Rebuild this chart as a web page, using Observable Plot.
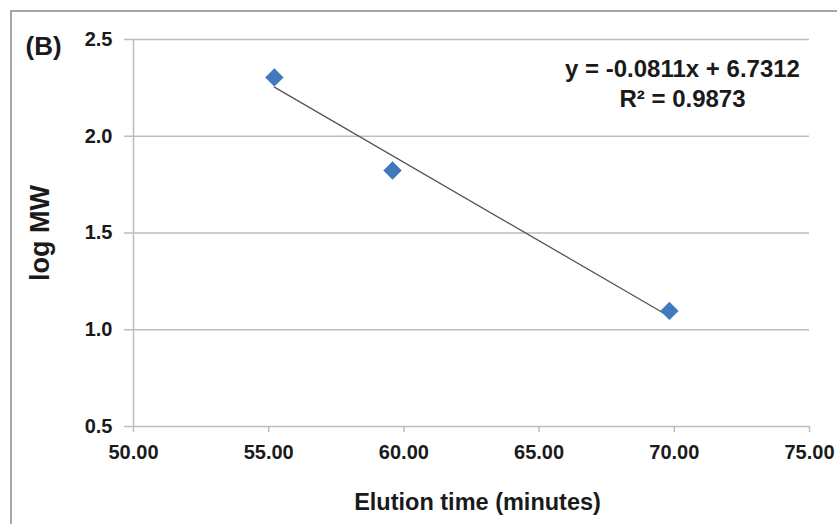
<!DOCTYPE html>
<html>
<head>
<meta charset="utf-8">
<script src="https://cdn.jsdelivr.net/npm/d3@7"></script>
<script src="https://cdn.jsdelivr.net/npm/@observablehq/plot@0.6"></script>
<style>
  html, body { margin: 0; padding: 0; background: #fff; }
  #wrap { position: relative; width: 837px; height: 524px; overflow: hidden; }
  #border { position: absolute; left: 10px; top: 10px; width: 900px; height: 600px; border-left: 2px solid #a6a6a6; border-top: 2px solid #a6a6a6; box-sizing: border-box; }
  #chart { position: absolute; left: 0; top: 0; }
  svg { font-family: "Liberation Sans", Arial, sans-serif; }
</style>
</head>
<body>
<div id="wrap"><div id="border"></div><div id="chart"></div></div>
<script>
const elutionTime = [55.21, 59.58, 69.82];
const logMW = [2.304, 1.823, 1.097];
const xTicks = [50, 55, 60, 65, 70, 75];
const yTicks = [0.5, 1.0, 1.5, 2.0, 2.5];
const slope = -0.0811, intercept = 6.7312;
const equationLines = ["y = -0.0811x + 6.7312", "R² = 0.9873"];

const points = elutionTime.map((x, i) => ({x, y: logMW[i]}));
const xMin = d3.min(elutionTime), xMax = d3.max(elutionTime);
const trend = [xMin, xMax].map(x => ({x, y: slope * x + intercept}));

const ink = "#1a1a1a";
const chart = Plot.plot({
  width: 837,
  height: 524,
  marginLeft: 133,
  marginRight: 28,
  marginTop: 39,
  marginBottom: 98,
  style: {fontFamily: "'Liberation Sans', Arial, sans-serif", background: "transparent"},
  x: {domain: [50, 75], ticks: xTicks, tickFormat: d3.format(".2f"), label: null},
  y: {domain: [0.5, 2.5], ticks: yTicks, tickFormat: d3.format(".1f"), label: null},
  marks: [
    Plot.ruleY(yTicks, {x1: 50, x2: 75, stroke: "#bdbdbd", strokeWidth: 1.5}),
    Plot.ruleX([50], {y1: 0.5, y2: 2.5, stroke: "#bdbdbd", strokeWidth: 1.5}),
    Plot.axisX({ticks: xTicks, tickFormat: d3.format(".2f"), tickSize: 6, tickPadding: 12, stroke: "#bdbdbd", strokeWidth: 1.5, strokeOpacity: 1, fill: ink, fontSize: 20, fontWeight: "bold", label: null}),
    Plot.axisY({ticks: yTicks, tickFormat: d3.format(".1f"), tickSize: 9, tickPadding: 12, stroke: "#bdbdbd", strokeWidth: 1.5, strokeOpacity: 1, fill: ink, fontSize: 20, fontWeight: "bold", label: null}),
    Plot.line(trend, {x: "x", y: "y", stroke: "#555", strokeWidth: 1.3}),
    Plot.dot(points, {x: "x", y: "y", symbol: "diamond2", r: 8, fill: "#4179bf", stroke: "#3a6fae", strokeWidth: 0.5}),
    Plot.text([equationLines[0]], {frameAnchor: "top-right", dx: -127, dy: 30, lineAnchor: "middle", text: d => d, textAnchor: "middle", fontSize: 24, fontWeight: "bold", fill: ink}),
    Plot.text([equationLines[1]], {frameAnchor: "top-right", dx: -127, dy: 59.5, lineAnchor: "middle", text: d => d, textAnchor: "middle", fontSize: 24, fontWeight: "bold", fill: ink}),
    Plot.text(["Elution time (minutes)"], {frameAnchor: "bottom", dx: 6, dy: 76, lineAnchor: "middle", textAnchor: "middle", text: d => d, fontSize: 23.5, fontWeight: "bold", fill: ink}),
    Plot.text(["log MW"], {frameAnchor: "left", dx: -93, rotate: -90, lineAnchor: "middle", textAnchor: "middle", text: d => d, fontSize: 27, fontWeight: "bold", fill: ink}),
    Plot.text(["(B)"], {frameAnchor: "top-left", dx: -108, dy: 7, lineAnchor: "middle", text: d => d, textAnchor: "start", fontSize: 26, fontWeight: "bold", fill: ink})
  ]
});
document.getElementById("chart").appendChild(chart);
</script>
</body>
</html>
